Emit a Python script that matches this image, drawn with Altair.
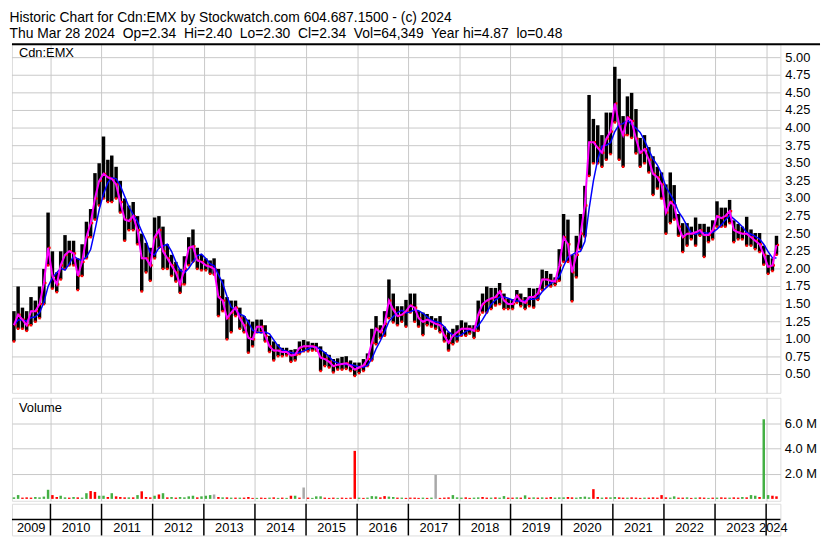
import altair as alt
import pandas as pd

TITLE1 = "Historic Chart for Cdn:EMX by Stockwatch.com 604.687.1500 - (c) 2024"
TITLE2 = ("Thu Mar 28 2024\u00a0 Op=2.34\u00a0 Hi=2.40\u00a0 Lo=2.30\u00a0 Cl=2.34\u00a0 "
          "Vol=64,349\u00a0 Year hi=4.87\u00a0 lo=0.48")
SYMBOL = "Cdn:EMX"

# monthly price ranges, Apr 2009 .. Mar 2024
hi = [
    1.40, 1.75, 1.45, 1.40, 1.60, 1.55, 1.75, 2.00, 2.80,
    2.25, 1.95, 2.25, 2.48, 2.40, 2.40, 2.15, 2.35, 2.67, 2.85, 3.36, 3.50,
    3.88, 3.55, 3.61, 3.45, 3.25, 3.00, 2.90, 2.95, 2.75, 2.50, 2.37, 2.30,
    2.73, 2.75, 2.60, 2.35, 2.20, 2.10, 2.00, 2.18, 2.45, 2.56, 2.30, 2.20,
    2.15, 2.12, 2.15, 2.00, 1.85, 1.60, 1.55, 1.55, 1.45, 1.33, 1.28, 1.25,
    1.28, 1.28, 1.20, 1.05, 0.97, 0.93, 0.88, 0.88, 0.85, 0.86, 0.97, 0.99,
    0.97, 0.95, 0.95, 0.90, 0.82, 0.78, 0.72, 0.73, 0.75, 0.76, 0.70, 0.67,
    0.67, 0.72, 0.80, 1.15, 1.33, 1.20, 1.40, 1.85, 1.65, 1.47, 1.47, 1.56,
    1.65, 1.65, 1.40, 1.38, 1.36, 1.33, 1.30, 1.33, 1.18, 1.10, 1.15, 1.20,
    1.27, 1.24, 1.20, 1.20, 1.55, 1.65, 1.75, 1.73, 1.73, 1.80, 1.65, 1.58,
    1.57, 1.70, 1.65, 1.60, 1.73, 1.72, 1.73, 1.99, 1.97, 1.93, 1.88, 2.28,
    2.78, 2.70, 2.20, 2.47, 2.78, 3.18, 4.47, 4.13, 4.04, 3.90, 4.22, 4.22,
    4.87, 4.70, 4.17, 4.45, 4.50, 4.27, 3.86, 3.90, 3.73, 3.60, 3.45, 3.37,
    3.20, 3.37, 3.19, 2.78, 2.65, 2.65, 2.60, 2.73, 2.64, 2.64, 2.60, 2.69,
    2.96, 2.87, 2.87, 2.98, 2.69, 2.64, 2.60, 2.74, 2.56, 2.51, 2.51, 2.33,
    2.20, 2.15, 2.47,
]
lo = [
    0.97, 1.15, 1.15, 1.12, 1.20, 1.25, 1.30, 1.50, 2.05,
    1.72, 1.67, 1.85, 2.00, 2.05, 2.05, 1.70, 1.90, 2.15, 2.45, 2.70, 2.90,
    3.00, 2.95, 2.95, 3.00, 2.80, 2.40, 2.55, 2.55, 2.35, 1.68, 1.95, 1.83,
    2.15, 2.30, 2.00, 2.00, 1.90, 1.82, 1.66, 1.78, 2.05, 2.10, 2.00, 1.98,
    1.98, 1.93, 1.92, 1.33, 1.40, 1.00, 1.10, 1.33, 1.15, 1.10, 0.81, 0.90,
    1.10, 1.10, 0.97, 0.82, 0.70, 0.76, 0.76, 0.77, 0.68, 0.70, 0.79, 0.83,
    0.83, 0.84, 0.84, 0.55, 0.62, 0.60, 0.53, 0.57, 0.57, 0.58, 0.55, 0.48,
    0.52, 0.55, 0.62, 0.70, 0.93, 1.02, 1.05, 1.30, 1.24, 1.20, 1.25, 1.18,
    1.38, 1.25, 1.18, 1.06, 1.20, 1.18, 1.15, 1.10, 0.97, 0.84, 0.93, 0.97,
    1.05, 1.05, 1.08, 1.02, 1.12, 1.38, 1.38, 1.43, 1.48, 1.50, 1.43, 1.43,
    1.43, 1.52, 1.47, 1.43, 1.47, 1.45, 1.56, 1.70, 1.75, 1.75, 1.77, 1.83,
    2.10, 2.10, 1.54, 1.88, 2.28, 2.46, 3.32, 3.50, 3.50, 3.45, 3.55, 3.63,
    4.08, 3.55, 3.45, 3.90, 3.86, 3.64, 3.45, 3.50, 3.37, 3.05, 3.14, 3.00,
    2.50, 2.65, 2.70, 2.47, 2.24, 2.33, 2.42, 2.33, 2.47, 2.17, 2.38, 2.42,
    2.60, 2.60, 2.60, 2.65, 2.38, 2.42, 2.42, 2.33, 2.33, 2.28, 2.24, 2.06,
    1.93, 1.97, 2.20,
]
close = [
    1.20, 1.35, 1.28, 1.20, 1.40, 1.40, 1.50, 1.80, 2.30,
    1.90, 1.78, 2.05, 2.20, 2.25, 2.22, 1.90, 2.10, 2.45, 2.65, 3.00, 3.25,
    3.35, 3.30, 3.28, 3.20, 2.95, 2.70, 2.68, 2.75, 2.55, 2.15, 2.15, 2.05,
    2.45, 2.55, 2.25, 2.15, 2.05, 1.95, 1.78, 2.00, 2.30, 2.32, 2.12, 2.10,
    2.05, 2.03, 2.00, 1.60, 1.55, 1.30, 1.38, 1.45, 1.30, 1.20, 1.02, 1.00,
    1.18, 1.18, 1.05, 0.90, 0.84, 0.84, 0.82, 0.82, 0.77, 0.78, 0.88, 0.90,
    0.90, 0.90, 0.88, 0.74, 0.72, 0.68, 0.62, 0.64, 0.65, 0.66, 0.62, 0.57,
    0.60, 0.63, 0.72, 0.95, 1.15, 1.10, 1.22, 1.55, 1.42, 1.33, 1.35, 1.40,
    1.48, 1.45, 1.30, 1.25, 1.28, 1.25, 1.22, 1.20, 1.05, 0.95, 1.05, 1.10,
    1.15, 1.15, 1.15, 1.12, 1.35, 1.50, 1.55, 1.58, 1.60, 1.68, 1.55, 1.50,
    1.50, 1.62, 1.55, 1.52, 1.60, 1.60, 1.65, 1.85, 1.85, 1.83, 1.82, 2.05,
    2.45, 2.35, 1.95, 2.20, 2.50, 2.90, 3.80, 3.80, 3.72, 3.65, 3.85, 3.95,
    4.35, 4.05, 3.90, 4.15, 4.10, 3.85, 3.65, 3.70, 3.55, 3.35, 3.30, 3.20,
    2.80, 2.95, 2.90, 2.60, 2.45, 2.50, 2.50, 2.52, 2.55, 2.48, 2.48, 2.55,
    2.75, 2.72, 2.75, 2.82, 2.55, 2.52, 2.50, 2.50, 2.45, 2.40, 2.35, 2.20,
    2.03, 2.05, 2.34,
]
# monthly peak daily volume, millions of shares
vol = [
    0.12, 0.30, 0.10, 0.12, 0.10, 0.15, 0.12, 0.18, 0.72,
    0.30, 0.15, 0.25, 0.12, 0.10, 0.15, 0.12, 0.10, 0.45, 0.62, 0.55, 0.25,
    0.25, 0.15, 0.45, 0.20, 0.15, 0.12, 0.12, 0.12, 0.30, 0.60, 0.15, 0.12,
    0.25, 0.35, 0.45, 0.12, 0.15, 0.10, 0.15, 0.12, 0.20, 0.25, 0.12, 0.20,
    0.25, 0.30, 0.35, 0.15, 0.12, 0.12, 0.10, 0.10, 0.10, 0.10, 0.15, 0.08,
    0.08, 0.10, 0.08, 0.10, 0.12, 0.08, 0.10, 0.08, 0.25, 0.25, 0.10, 0.90,
    0.10, 0.08, 0.20, 0.20, 0.10, 0.08, 0.10, 0.08, 0.10, 0.08, 0.10, 3.80,
    0.10, 0.08, 0.10, 0.22, 0.20, 0.12, 0.22, 0.18, 0.15, 0.10, 0.10, 0.08,
    0.10, 0.10, 0.08, 0.10, 0.08, 0.10, 1.90, 0.08, 0.10, 0.12, 0.30, 0.12,
    0.10, 0.12, 0.08, 0.10, 0.12, 0.15, 0.10, 0.10, 0.12, 0.10, 0.22, 0.10,
    0.10, 0.12, 0.10, 0.28, 0.10, 0.12, 0.10, 0.12, 0.10, 0.15, 0.10, 0.12,
    0.12, 0.15, 0.12, 0.10, 0.15, 0.18, 0.12, 0.77, 0.15, 0.10, 0.12, 0.12,
    0.15, 0.12, 0.10, 0.10, 0.12, 0.10, 0.08, 0.10, 0.10, 0.12, 0.10, 0.30,
    0.12, 0.10, 0.20, 0.10, 0.10, 0.12, 0.08, 0.10, 0.12, 0.10, 0.08, 0.10,
    0.10, 0.12, 0.10, 0.10, 0.12, 0.10, 0.15, 0.12, 0.30, 0.25, 0.15, 6.30,
    0.30, 0.25, 0.20,
]
# g = up, r = down, n = unchanged
vol_dir = list(
    "ggrrrgggg"
    "rrggrgrggrrg"
    "grgrrrgrgrrr"
    "grgrgrggggrg"
    "ggnrgrgrgrrr"
    "grrgrgrgrgrn"
    "rgggrrrgrrrr"
    "grgggrrggrgr"
    "rrrgrgnrrrgg"
    "grrggrrgrggr"
    "rgrgrgrgrrgg"
    "grrggggrrgrg"
    "grrgrrrgrrrr"
    "rggrrgrgrrgr"
    "grrgrrgrggrg"
    "grr"
)

YEARS = [str(y) for y in range(2009, 2025)]
PRICE_TICKS = [0.50, 0.75, 1.00, 1.25, 1.50, 1.75, 2.00, 2.25, 2.50, 2.75,
               3.00, 3.25, 3.50, 3.75, 4.00, 4.25, 4.50, 4.75, 5.00]
VOL_TICKS = [2, 4, 6]

months = pd.date_range("2009-04-01", periods=len(hi), freq="MS")
df = pd.DataFrame({
    "date": months + pd.Timedelta(days=14),
    "hi": hi, "lo": lo, "close": close, "vol": vol, "dir": vol_dir,
})

X_START = pd.Timestamp("2009-04-01")
X_END = pd.Timestamp("2024-04-12")
x_dom = [alt.DateTime(year=2009, month=4, date=1),
         alt.DateTime(year=2024, month=4, date=12)]
year_ticks = [alt.DateTime(year=int(y), month=1, date=1) for y in YEARS[1:]]

bdf = pd.DataFrame({"d": [pd.Timestamp(f"{y}-01-01") for y in YEARS[1:]]})
mids = []
for y in YEARS:
    s = max(pd.Timestamp(f"{y}-01-01"), X_START)
    e = min(pd.Timestamp(f"{int(y) + 1}-01-01"), X_END)
    mids.append(s + (e - s) / 2)
ldf = pd.DataFrame({"mid": mids, "label": YEARS})
gdf = pd.DataFrame({"g": PRICE_TICKS, "lab": [f"{v:.2f}" for v in PRICE_TICKS]})

W, H1, H2, H3 = 776, 352, 104, 32
GRID = "#c8c8c8"
FONT = "Liberation Sans"
FS = 13
GREEN, RED, GREYV = "#44b044", "#ff0000", "#a8a8a8"

xs = alt.Scale(domain=x_dom)
x_axis = alt.Axis(values=year_ticks, grid=True, gridColor=GRID, gridWidth=1,
                  labels=False, ticks=False, domain=False, title=None)

base = alt.Chart(df)
price_scale = alt.Scale(domain=[0.24, 5.19], nice=False, zero=False)

hgrid = alt.Chart(gdf).mark_rule(color=GRID, strokeWidth=1).encode(
    y=alt.Y("g:Q", scale=price_scale, axis=None, title=None))
plabels = alt.Chart(gdf).mark_text(
    align="left", baseline="middle", fontSize=FS, font=FONT, color="black"
).encode(x=alt.value(W + 5), y=alt.Y("g:Q", title=None), text="lab:N")
bars = base.mark_rule(color="black", strokeWidth=3.5).encode(
    x=alt.X("date:T", scale=xs, axis=x_axis, title=None),
    y=alt.Y("lo:Q", title=None),
    y2="hi:Q",
)
reds = base.mark_square(color=RED, size=6, opacity=1).encode(
    x=alt.X("date:T", title=None), y=alt.Y("lo:Q", title=None))
reds2 = base.mark_square(color=RED, size=5, opacity=1, xOffset=1.5).encode(
    x=alt.X("date:T", title=None), y=alt.Y("close:Q", title=None))
blue = base.transform_window(
    ma="mean(close)", frame=[-3, 0], sort=[alt.SortField("date")]
).mark_line(color="#0000ff", strokeWidth=1.5).encode(
    x=alt.X("date:T", title=None), y=alt.Y("ma:Q", title=None))
mag = base.mark_line(color="#ff00ff", strokeWidth=2).encode(
    x=alt.X("date:T", title=None), y=alt.Y("close:Q", title=None))
sym = alt.Chart(pd.DataFrame({"t": [SYMBOL]})).mark_text(
    align="left", baseline="middle", fontSize=FS, font=FONT, color="black"
).encode(x=alt.value(7), y=alt.value(9), text="t:N")
topline = alt.Chart(pd.DataFrame({"z": [0]})).mark_rule(
    color="black", strokeWidth=2).encode(x=alt.value(0), x2=alt.value(W + 40), y=alt.value(0))
price = alt.layer(hgrid, bars, reds, reds2, blue, mag, plabels, sym, topline).properties(
    width=W, height=H1)

vol_scale = alt.Scale(domain=[-0.15, 8.0], nice=False, zero=False)
vol_axis = alt.Axis(orient="right", values=VOL_TICKS,
                    labelExpr="format(datum.value, '.1f') + ' M'", grid=True,
                    gridColor=GRID, ticks=False, domain=False, labelPadding=4,
                    labelFontSize=FS, labelFont=FONT, labelColor="black", title=None)
vbars = base.mark_rule(strokeWidth=2.5).encode(
    x=alt.X("date:T", scale=xs, axis=x_axis, title=None),
    y=alt.Y("vol:Q", scale=vol_scale, axis=vol_axis, title=None),
    y2=alt.datum(0),
    color=alt.Color("dir:N", scale=alt.Scale(domain=["g", "r", "n"],
                                             range=[GREEN, RED, GREYV]), legend=None),
)
vlab = alt.Chart(pd.DataFrame({"t": ["Volume"]})).mark_text(
    align="left", baseline="middle", fontSize=FS, font=FONT, color="black"
).encode(x=alt.value(7), y=alt.value(10), text="t:N")
volume = alt.layer(vbars, vlab).properties(width=W, height=H2)

seps = alt.Chart(bdf).mark_rule(color="black", strokeWidth=1.5).encode(
    x=alt.X("d:T", scale=xs, axis=None))
midline = alt.Chart(pd.DataFrame({"z": [0]})).mark_rule(
    color="black", strokeWidth=1.5).encode(y=alt.value(H3 / 2))
ylabels = alt.Chart(ldf).mark_text(
    fontSize=FS, font=FONT, color="black", baseline="middle"
).encode(x=alt.X("mid:T", scale=xs, axis=None), y=alt.value(H3 * 0.75 + 1),
         text="label:N")
strip = alt.layer(seps, midline, ylabels).properties(width=W, height=H3)

top = alt.vconcat(price, volume, spacing=3).resolve_scale(x="independent", y="independent")
chart = alt.vconcat(top, strip, spacing=0).resolve_scale(
    x="independent", y="independent"
).properties(
    title=alt.TitleParams(text=[TITLE1, TITLE2], anchor="start", fontSize=14, font=FONT,
                          fontWeight="normal", color="black", offset=2, lineHeight=16),
    padding={"left": 1, "top": 0, "right": 0, "bottom": 1},
).configure_view(stroke="black", strokeWidth=2).configure(background="white")

chart.save("out.html", embed_options={"renderer": "svg", "actions": False})
